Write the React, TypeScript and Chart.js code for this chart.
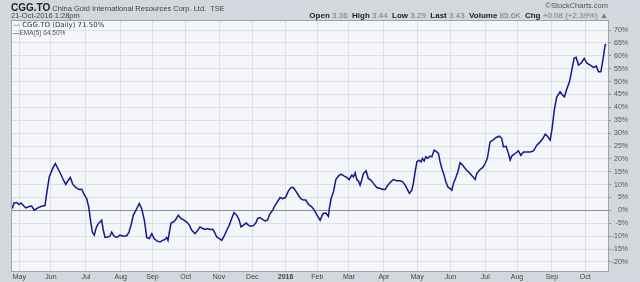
import React, { useEffect, useRef } from "react";
import { Chart, registerables } from "chart.js";

Chart.register(...registerables);

// Trading-day index (0 = first session of May 2015) and EMA(5) % change
const dayIndex = [
  -4.4, -3.3, -1.6, -0.2, 1.1, 3.0, 4.2, 5.7, 7.8, 9.5, 12.0, 14.1, 16.2, 17.3, 18.9, 21.1, 22.7, 25.2, 27.4, 29.3,
  30.9, 32.2, 33.7, 35.6, 37.7, 39.4, 40.8, 42.5, 43.8, 45.1, 46.1, 47.3, 48.4, 49.5, 50.9, 52.0, 53.0, 54.1, 55.8, 57.2,
  58.3, 59.8, 61.5, 63.5, 65.6, 67.8, 69.2, 70.5, 71.9, 74.1, 75.7, 77.2, 78.9, 80.4, 82.0, 83.6, 85.0, 86.7, 88.8, 90.5,
  91.8, 93.0, 93.8, 94.7, 95.7, 97.2, 98.4, 100.3, 102.0, 103.9, 105.6, 107.3, 108.8, 110.9, 112.6, 114.0, 115.7, 117.2, 118.6, 120.3,
  122.1, 123.1, 124.6, 126.2, 127.7, 129.2, 130.9, 132.5, 134.0, 135.5, 137.2, 138.6, 139.9, 141.4, 143.1, 144.5, 146.0, 147.7, 149.2, 150.4,
  151.9, 153.4, 155.1, 156.5, 158.2, 159.9, 161.4, 162.8, 164.5, 166.2, 167.9, 169.8, 171.5, 172.9, 174.4, 176.1, 177.6, 179.2, 180.7, 182.4,
  184.1, 185.5, 187.1, 188.3, 189.8, 190.8, 191.8, 193.4, 195.0, 195.6, 196.7, 198.2, 199.7, 201.3, 203.0, 205.1, 206.6, 208.1, 209.8, 210.8,
  211.9, 212.9, 213.9, 215.0, 216.1, 217.1, 218.8, 220.2, 221.9, 223.4, 225.5, 227.6, 229.7, 230.8, 232.5, 234.4, 236.0, 238.2, 240.2, 241.9,
  243.4, 244.9, 246.1, 247.6, 248.6, 249.7, 250.8, 252.2, 253.5, 254.3, 255.4, 256.5, 257.7, 259.2, 260.3, 261.7, 263.4, 264.4, 265.5, 266.6,
  268.0, 269.1, 270.4, 271.8, 272.9, 273.9, 275.4, 276.7, 278.1, 279.6, 281.3, 282.3, 284.4, 287.6, 288.6, 290.7, 292.4, 293.9, 295.3, 297.0,
  298.8, 300.8, 302.9, 304.4, 305.4, 307.1, 308.6, 309.7, 310.7, 312.8, 314.9, 316.4, 318.1, 320.2, 322.3, 324.4, 326.5, 328.6, 330.3, 331.8,
  333.2, 334.9, 336.0, 337.6, 339.1, 341.2, 342.7, 343.9, 345.4, 347.1, 348.6, 350.0, 351.3, 352.8, 354.4, 356.4, 358.1, 360.2, 362.2, 364.0,
  365.4, 366.9, 368.2, 369.6, 370.2,
];

const emaValues = [
  0.7, 2.9, 3.1, 2.3, 2.9, 1.6, 1.0, 1.4, 1.7, 0.1, 1.1, 1.6, 1.9, 6.6, 13.0, 16.3, 18.2, 15.3, 12.4, 10.1,
  11.7, 12.8, 10.2, 8.9, 8.1, 8.2, 6.3, 4.6, 1.4, -4.5, -8.4, -9.6, -7.0, -5.4, -4.5, -3.8, -7.7, -10.5, -10.3, -10.0,
  -8.4, -10.0, -10.5, -9.6, -10.0, -9.8, -8.4, -5.7, -1.9, 0.7, 2.7, 0.7, -3.8, -10.5, -10.9, -9.0, -10.9, -11.8, -12.2, -11.6,
  -11.3, -10.5, -11.6, -8.4, -4.9, -4.5, -3.8, -1.9, -3.1, -3.8, -4.5, -5.7, -7.7, -9.0, -7.7, -6.4, -7.0, -7.4, -7.0, -7.4,
  -7.3, -8.4, -10.3, -10.9, -11.6, -10.0, -7.7, -5.7, -3.1, -0.8, -1.9, -3.5, -6.4, -5.7, -4.9, -5.7, -6.1, -5.9, -4.9, -3.1,
  -2.8, -3.5, -4.1, -3.8, -1.2, 0.1, 2.0, 3.3, 5.0, 4.6, 5.0, 7.6, 8.9, 8.9, 7.6, 5.9, 4.6, 4.0, 4.0, 2.4,
  1.6, 0.7, -1.0, -2.3, -3.8, -2.3, -1.2, -1.0, -2.3, 0.7, 4.6, 7.2, 12.0, 13.3, 14.1, 13.3, 12.8, 12.0, 13.7, 13.0,
  14.6, 12.0, 11.5, 9.8, 12.0, 14.3, 15.3, 12.4, 11.7, 10.5, 8.9, 8.5, 8.1, 8.1, 9.8, 11.1, 12.0, 11.5, 11.5, 11.1,
  9.8, 8.1, 6.6, 7.8, 10.5, 15.0, 18.8, 19.5, 18.8, 20.2, 19.2, 20.8, 20.2, 21.1, 20.8, 23.4, 22.7, 22.1, 18.8, 16.3,
  13.7, 11.1, 9.1, 8.5, 7.8, 10.5, 12.8, 15.0, 18.5, 17.6, 16.3, 15.6, 14.3, 12.0, 14.3, 15.9, 16.7, 18.2, 20.2, 26.6,
  27.3, 28.3, 28.8, 27.9, 24.7, 24.9, 22.1, 19.5, 21.1, 22.1, 23.1, 21.4, 22.7, 22.7, 22.7, 23.1, 25.3, 26.6, 27.9, 29.6,
  28.8, 27.3, 31.2, 39.3, 44.1, 46.0, 44.8, 44.1, 47.1, 49.9, 54.5, 59.0, 59.4, 56.4, 57.1, 59.0, 57.1, 56.4, 55.5, 56.0,
  53.8, 53.8, 58.4, 64.2, 64.5,
];

// Month boundaries in trading-day index
const monthStartIndex = [0, 20, 42, 64, 84, 105, 126, 147, 168, 188, 208, 230, 251, 272, 294, 314, 336, 357];
const monthLabels = ["May", "Jun", "Jul", "Aug", "Sep", "Oct", "Nov", "Dec", "2016", "Feb", "Mar", "Apr", "May", "Jun", "Jul", "Aug", "Sep", "Oct"];

const yTickValues = [-20, -15, -10, -5, 0, 5, 10, 15, 20, 25, 30, 35, 40, 45, 50, 55, 60, 65, 70];

const xMin = -4.6;
const xMax = 371.4;
const yMin = -23.5;
const yMax = 73.5;

const FONT = "'Liberation Sans', Arial, sans-serif";

const plotBg = {
  id: "plotBg",
  beforeDraw(chart: any) {
    const { ctx, chartArea } = chart;
    if (!chartArea) return;
    ctx.save();
    ctx.fillStyle = "#f5f6fa";
    ctx.fillRect(chartArea.left, chartArea.top, chartArea.right - chartArea.left, chartArea.bottom - chartArea.top);
    ctx.restore();
  },
  afterDraw(chart: any) {
    const { ctx, chartArea } = chart;
    ctx.save();
    ctx.strokeStyle = "#9fa3aa";
    ctx.lineWidth = 1;
    ctx.strokeRect(chartArea.left - 0.5, chartArea.top - 0.5, chartArea.right - chartArea.left + 1, chartArea.bottom - chartArea.top + 1);
    ctx.restore();
  },
};

export default function App() {
  const ref = useRef<HTMLCanvasElement | null>(null);

  useEffect(() => {
    document.body.style.margin = "0";
    const canvas = ref.current;
    if (!canvas) return;
    const chart = new Chart(canvas, {
      type: "line",
      data: {
        datasets: [
          {
            label: "EMA(5)",
            data: dayIndex.map((x, i) => ({ x, y: emaValues[i] })),
            borderColor: "#17178c",
            borderWidth: 1.5,
            pointRadius: 0,
            tension: 0,
            fill: false,
          },
        ],
      },
      options: {
        animation: false,
        responsive: false,
        maintainAspectRatio: false,
        layout: { padding: { left: 12, top: 21, right: 12, bottom: 0 } },
        plugins: { legend: { display: false }, tooltip: { enabled: false }, title: { display: false } },
        scales: {
          x: {
            type: "linear",
            min: xMin,
            max: xMax,
            afterBuildTicks: (axis: any) => {
              axis.ticks = monthStartIndex.map((v) => ({ value: v }));
            },
            afterFit: (scale: any) => {
              scale.height = 11;
            },
            border: { display: false },
            grid: { color: "#dcdfe6", drawTicks: false, lineWidth: 1 },
            ticks: {
              autoSkip: false,
              maxRotation: 0,
              padding: 1.5,
              color: "#444",
              font: (c: any) => ({
                family: FONT,
                size: 7,
                weight: c.tick && c.tick.value === monthStartIndex[8] ? "bold" : "normal",
              }),
              callback: (_v: any, i: number) => monthLabels[i],
            },
          },
          y: {
            type: "linear",
            position: "right",
            min: yMin,
            max: yMax,
            afterBuildTicks: (axis: any) => {
              axis.ticks = yTickValues.map((v) => ({ value: v }));
            },
            afterFit: (scale: any) => {
              scale.width = 20;
            },
            border: { display: false },
            grid: {
              color: (c: any) => (c.tick && c.tick.value === 0 ? "#8c8e94" : "#dcdfe6"),
              tickColor: "#8c8e94",
              tickLength: 3,
              lineWidth: 1,
            },
            ticks: {
              crossAlign: "far",
              padding: 0,
              color: "#555",
              font: { family: FONT, size: 7 },
              callback: (v: any) => v + "%",
            },
          },
        },
      },
      plugins: [plotBg],
    });
    return () => chart.destroy();
  }, []);

  const gray = "#777";
  const dark = "#222";
  return (
    <div style={{ position: "relative", width: 640, height: 282, background: "#d3d7de", overflow: "hidden", fontFamily: FONT }}>
      <canvas ref={ref} width={640} height={282} style={{ position: "absolute", left: 0, top: 0, display: "block" }} />
      <div style={{ position: "absolute", left: 11, top: 0, whiteSpace: "pre", lineHeight: "12px" }}>
        <span style={{ fontSize: 10, fontWeight: "bold", color: dark }}>CGG.TO</span>
        <span style={{ fontSize: 7.5, color: "#444" }}> China Gold International Resources Corp. Ltd.  TSE</span>
      </div>
      <div style={{ position: "absolute", left: 11, top: 11, fontSize: 7.5, color: "#444", whiteSpace: "pre", lineHeight: "9px" }}>
        21-Oct-2016 1:28pm
      </div>
      <div style={{ position: "absolute", right: 32, top: 2, fontSize: 7.5, color: "#555", whiteSpace: "pre", lineHeight: "8px" }}>
        ©StockCharts.com
      </div>
      <div style={{ position: "absolute", right: 32, top: 11, fontSize: 8, color: gray, whiteSpace: "pre", lineHeight: "9px" }}>
        <b style={{ color: dark }}>Open</b> 3.36  <b style={{ color: dark }}>High</b> 3.44  <b style={{ color: dark }}>Low</b> 3.29{"  "}
        <b style={{ color: dark }}>Last</b> 3.43  <b style={{ color: dark }}>Volume</b> 85.6K  <b style={{ color: dark }}>Chg</b> +0.08 (+2.39%) ▲
      </div>
      <div style={{ position: "absolute", left: 13, top: 21, whiteSpace: "pre", lineHeight: "8px" }}>
        <div style={{ fontSize: 7, fontFamily: "'DejaVu Sans', sans-serif", color: "#333" }}>
          <span style={{ color: "#4a5a9a" }}>—</span> CGG.TO (Daily) 71.50%
        </div>
        <div style={{ fontSize: 6.5, color: "#555" }}>
          <span style={{ color: "#17178c" }}>—</span>EMA(5) 64.50%
        </div>
      </div>
    </div>
  );
}
